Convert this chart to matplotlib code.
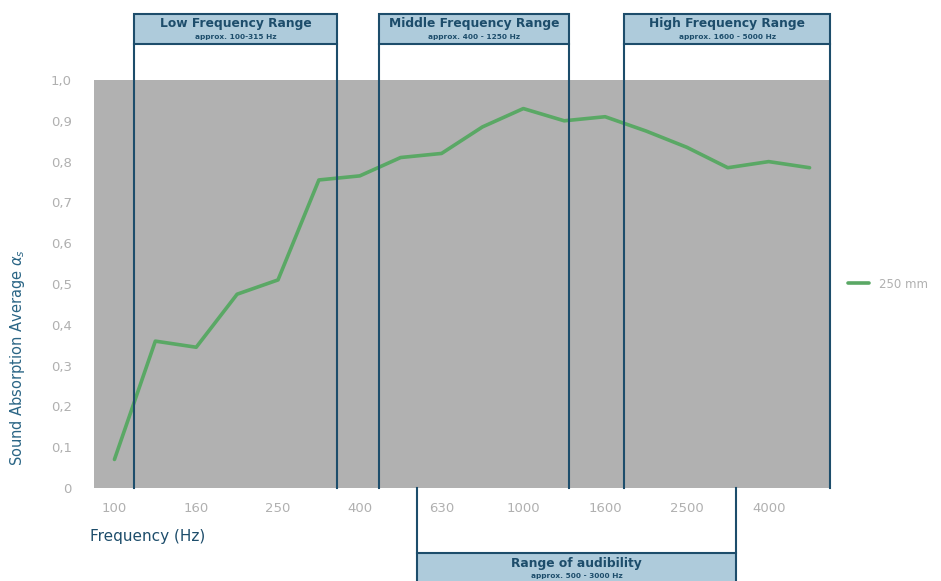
import matplotlib.pyplot as plt
import matplotlib.transforms as mtransforms
from matplotlib.patches import Rectangle

# 1/3 octave bands and absorption values
freqs = ["100", "125", "160", "200", "250", "315", "400", "500", "630",
         "800", "1000", "1250", "1600", "2000", "2500", "3150", "4000", "5000"]
alpha = [0.07, 0.36, 0.345, 0.475, 0.51, 0.755, 0.765, 0.81, 0.82,
         0.885, 0.93, 0.90, 0.91, 0.875, 0.835, 0.785, 0.80, 0.785]
yticks = [0, 0.1, 0.2, 0.3, 0.4, 0.5, 0.6, 0.7, 0.8, 0.9, 1.0]
ytick_labels = ["0", "0,1", "0,2", "0,3", "0,4", "0,5", "0,6", "0,7", "0,8", "0,9", "1,0"]

# range headers: (title, subtitle, left, right) in band-index units
top_ranges = [
    ("Low Frequency Range", "approx. 100-315 Hz", 0.47, 5.45),
    ("Middle Frequency Range", "approx. 400 - 1250 Hz", 6.48, 11.12),
    ("High Frequency Range", "approx. 1600 - 5000 Hz", 12.47, 17.5),
]
bottom_range = ("Range of audibility", "approx. 500 - 3000 Hz", 7.41, 15.2)

dark = "#1d4d6b"
fill = "#aecbdb"
tickgray = "#b0b0b0"

W, H = 941, 581
fig = plt.figure(figsize=(W / 100, H / 100), dpi=100)
ax = fig.add_axes([94 / W, 1 - 488 / H, (830 - 94) / W, (488 - 80) / H])
ax.set_facecolor("#b1b1b1")

x = list(range(len(freqs)))
ax.plot(x, alpha, color="#5aa865", lw=2.6, solid_capstyle="round", label="250 mm")

ax.set_xlim(-0.5, 17.5)
ax.set_ylim(0, 1.0)
ax.set_xticks(x[::2])
ax.set_xticklabels(freqs[::2])
ax.set_yticks(yticks)
ax.set_yticklabels(ytick_labels)
ax.tick_params(length=0, colors=tickgray, labelsize=9.5)
ax.tick_params(axis="x", pad=10)
ax.tick_params(axis="y", pad=16)
for s in ax.spines.values():
    s.set_visible(False)

leg = ax.legend(loc="center left", bbox_to_anchor=(1.01, 0.5), frameon=False,
                handlelength=1.8, fontsize=8.5)
for t in leg.get_texts():
    t.set_color(tickgray)

trans = mtransforms.blended_transform_factory(ax.transData, fig.transFigure)
ax_bottom = 1 - 488 / H

def fy(px):
    return 1 - px / H

for title, sub, l, r in top_ranges:
    ax.add_patch(Rectangle((l, fy(44)), r - l, fy(14) - fy(44), transform=trans,
                           facecolor=fill, edgecolor=dark, lw=1.5, clip_on=False, zorder=5))
    for xx in (l, r):
        ax.plot([xx, xx], [fy(44), ax_bottom], transform=trans, color=dark, lw=1.5,
                clip_on=False, zorder=5)
    cx = (l + r) / 2
    ax.text(cx, fy(23), title, transform=trans, ha="center", va="center",
            fontsize=8.8, fontweight="bold", color=dark, zorder=6)
    ax.text(cx, fy(37), sub, transform=trans, ha="center", va="center",
            fontsize=5.3, fontweight="bold", color=dark, zorder=6)

title, sub, l, r = bottom_range
ax.add_patch(Rectangle((l, fy(583)), r - l, fy(553) - fy(583), transform=trans,
                       facecolor=fill, edgecolor=dark, lw=1.5, clip_on=False, zorder=5))
for xx in (l, r):
    ax.plot([xx, xx], [ax_bottom, fy(553)], transform=trans, color=dark, lw=1.5,
            clip_on=False, zorder=5)
cx = (l + r) / 2
ax.text(cx, fy(564), title, transform=trans, ha="center", va="center",
        fontsize=8.8, fontweight="bold", color=dark, zorder=6)
ax.text(cx, fy(576), sub, transform=trans, ha="center", va="center",
        fontsize=5.3, fontweight="bold", color=dark, zorder=6)

fig.text(90 / W, fy(537), "Frequency (Hz)", ha="left", va="center",
         fontsize=11, color=dark)
fig.text(18 / W, fy(358), r"Sound Absorption Average $\alpha_s$", ha="center",
         va="center", rotation=90, fontsize=10.5, color="#2a6585")

fig.savefig("out.png", dpi=100)
